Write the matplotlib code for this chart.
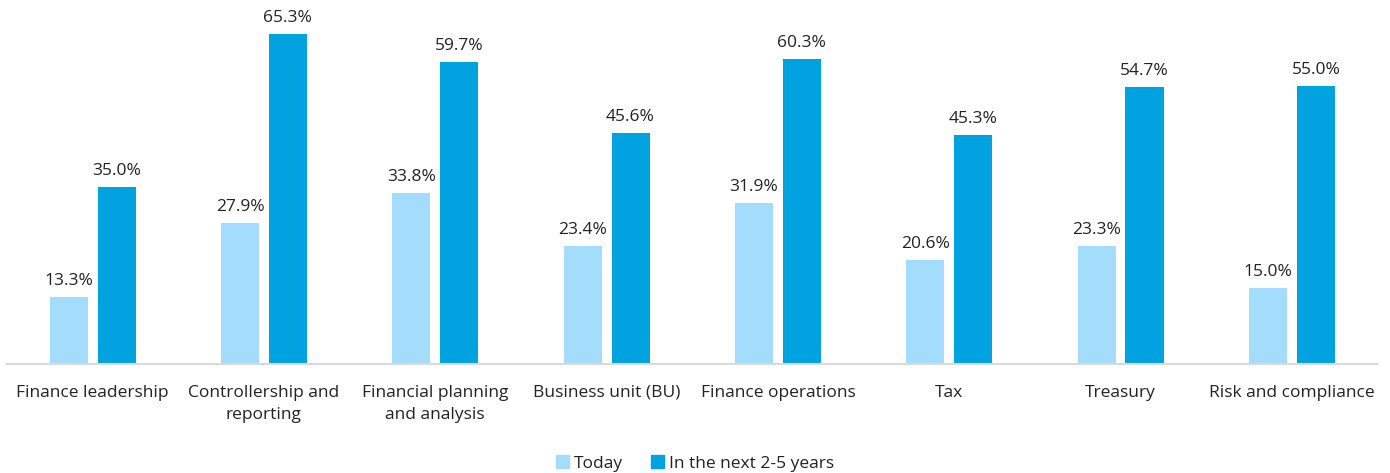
import numpy as np
import matplotlib.pyplot as plt
from matplotlib.patches import Patch

plt.rcParams['font.family'] = ['Open Sans', 'DejaVu Sans']

categories = ["Finance leadership", "Controllership and\nreporting", "Financial planning\nand analysis",
              "Business unit (BU)", "Finance operations", "Tax", "Treasury", "Risk and compliance"]
today = [13.3, 27.9, 33.8, 23.4, 31.9, 20.6, 23.3, 15.0]
next_years = [35.0, 65.3, 59.7, 45.6, 60.3, 45.3, 54.7, 55.0]

light = '#A3DCFC'
dark = '#00A3E0'
text_color = '#222222'

fig = plt.figure(figsize=(13.9, 4.73), dpi=100)
ax = fig.add_axes([0.005, 0.2304, 0.986, 0.7696])

x = np.arange(len(categories))
w = 0.222
off = 0.14
b1 = ax.bar(x - off, today, w, color=light, label='Today')
b2 = ax.bar(x + off, next_years, w, color=dark, label='In the next 2-5 years')

for bars, vals in [(b1, today), (b2, next_years)]:
    for bar, v in zip(bars, vals):
        ax.text(bar.get_x() + bar.get_width() / 2, v + 1.6, f"{v:.1f}%",
                ha='center', va='bottom', fontsize=12.5, color=text_color)

ax.set_xlim(-0.5, len(categories) - 0.5)
ax.set_ylim(0, 72)
ax.set_xticks(x)
ax.set_xticklabels(categories, fontsize=12.5, color=text_color, linespacing=1.5)
ax.tick_params(axis='x', length=0, pad=15)
ax.set_yticks([])
for s in ['top', 'right', 'left']:
    ax.spines[s].set_visible(False)
ax.spines['bottom'].set_color('#D9D9D9')
ax.spines['bottom'].set_linewidth(1.5)

handles = [Patch(color=light, label='Today'), Patch(color=dark, label='In the next 2-5 years')]
fig.legend(handles=handles, loc='lower center', bbox_to_anchor=(0.5, -0.03), ncol=2, frameon=False,
           fontsize=12.5, handlelength=0.75, handleheight=0.75, handletextpad=0.3, columnspacing=1.6,
           labelcolor=text_color)

fig.savefig('out.png', dpi=100)
